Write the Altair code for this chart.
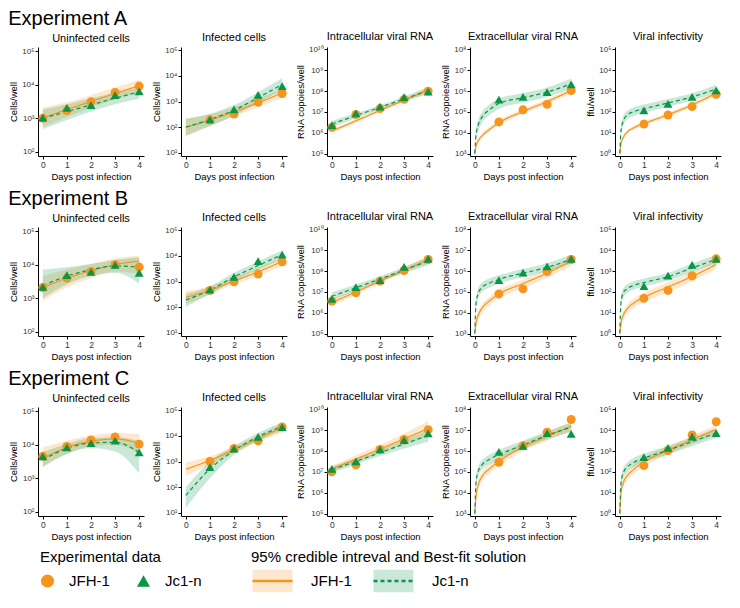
import altair as alt
import pandas as pd

FONT = "Liberation Sans"
ORANGE = "#F7941D"
GREEN = "#0A9548"
STRAINS = ["JFH-1", "Jc1-n"]
STRAIN_KEYS = ["JFH", "JC1"]
EXPERIMENTS = ["Experiment A", "Experiment B", "Experiment C"]
EXP_LETTERS = ["A", "B", "C"]
PANEL_TITLES = ["Uninfected cells", "Infected cells", "Intracellular viral RNA",
                "Extracellular viral RNA", "Viral infectivity"]
Y_TITLES = ["Cells/well", "Cells/well", "RNA copoies/well", "RNA copoies/well", "ffu/well"]
Y_LOW_EXP = [2, 1, 5, 3, 0]
Y_HIGH_EXP = [5, 5, 10, 8, 5]
X_TICKS = [0, 1, 2, 3, 4]
OBS_DAYS = [0, 1, 2, 3, 4]
T_GROWTH = [0, 1, 2, 3, 4]
T_RELEASE = [0, 0.05, 0.15, 0.3, 0.6, 1, 2, 3, 4]
FIT_TIMES = [T_GROWTH, T_GROWTH, T_GROWTH, T_RELEASE, T_RELEASE]

# ---- observed data (per well); None = not measured ----
# fits: best-fit and 95% band given as log10 of the value
# Experiment A
A0_JFH_obs = [1000, 1700, 3100, 5900, 9100]
A0_JC1_obs = [1050, 2050, 2450, 4900, 6300]
A0_JFH_fit = [3.02, 3.26, 3.5, 3.74, 3.97]
A0_JFH_lo = [2.75, 3.05, 3.32, 3.56, 3.78]
A0_JFH_hi = [3.32, 3.48, 3.68, 3.92, 4.14]
A0_JC1_fit = [3.0, 3.2, 3.4, 3.6, 3.78]
A0_JC1_lo = [2.68, 2.95, 3.2, 3.42, 3.58]
A0_JC1_hi = [3.26, 3.42, 3.6, 3.76, 3.92]

A1_JFH_obs = [None, 190, 325, 940, 2050]
A1_JC1_obs = [None, 200, 490, 1800, 4000]
A1_JFH_fit = [2.0, 2.28, 2.6, 2.95, 3.33]
A1_JFH_lo = [1.68, 2.05, 2.42, 2.78, 3.15]
A1_JFH_hi = [2.34, 2.5, 2.78, 3.12, 3.5]
A1_JC1_fit = [2.0, 2.3, 2.66, 3.15, 3.66]
A1_JC1_lo = [1.66, 2.05, 2.45, 2.95, 3.44]
A1_JC1_hi = [2.32, 2.52, 2.86, 3.36, 3.9]

A2_JFH_obs = [1.8e6, 7.5e6, 1.45e7, 4.0e7, 1.0e8]
A2_JC1_obs = [2.3e6, 8.5e6, 1.8e7, 5.2e7, 9.5e7]
A2_JFH_fit = [6.08, 6.57, 7.07, 7.56, 8.05]
A2_JFH_lo = [5.98, 6.48, 6.99, 7.47, 7.93]
A2_JFH_hi = [6.18, 6.66, 7.15, 7.65, 8.17]
A2_JC1_fit = [6.42, 6.82, 7.22, 7.62, 8.02]
A2_JC1_lo = [6.26, 6.7, 7.12, 7.5, 7.86]
A2_JC1_hi = [6.58, 6.94, 7.32, 7.74, 8.18]

A3_JFH_obs = [None, 3.3e4, 1.26e5, 2.3e5, 1.07e6]
A3_JC1_obs = [None, 3.9e5, 5.3e5, 8.9e5, 2.1e6]
A3_JFH_fit = [3.0, 3.35, 3.62, 3.85, 4.15, 4.48, 5.02, 5.5, 6.02]
A3_JFH_lo = [3.0, 3.25, 3.5, 3.73, 4.03, 4.36, 4.9, 5.38, 5.88]
A3_JFH_hi = [3.0, 3.45, 3.74, 3.97, 4.27, 4.6, 5.14, 5.62, 6.16]
A3_JC1_fit = [3.0, 3.9, 4.4, 4.75, 5.1, 5.4, 5.68, 5.95, 6.35]
A3_JC1_lo = [3.0, 3.6, 4.1, 4.48, 4.84, 5.14, 5.45, 5.72, 6.12]
A3_JC1_hi = [3.0, 4.15, 4.65, 5.0, 5.34, 5.64, 5.9, 6.17, 6.6]

A4_JFH_obs = [None, 26, 71, 180, 690]
A4_JC1_obs = [None, 118, 240, 525, 1070]
A4_JFH_fit = [0, 0.45, 0.78, 1.02, 1.25, 1.44, 1.86, 2.34, 2.9]
A4_JFH_lo = [0, 0.35, 0.68, 0.92, 1.15, 1.34, 1.76, 2.24, 2.78]
A4_JFH_hi = [0, 0.55, 0.88, 1.12, 1.35, 1.54, 1.96, 2.44, 3.02]
A4_JC1_fit = [0, 1.1, 1.58, 1.84, 2.02, 2.15, 2.43, 2.72, 3.1]
A4_JC1_lo = [0, 0.85, 1.35, 1.63, 1.82, 1.96, 2.25, 2.55, 2.92]
A4_JC1_hi = [0, 1.3, 1.8, 2.05, 2.22, 2.35, 2.62, 2.9, 3.3]

# Experiment B
B0_JFH_obs = [2100, 4000, 6300, 10000, 8500]
B0_JC1_obs = [2200, 4900, 6100, 9800, 5700]
B0_JFH_fit = [3.32, 3.6, 3.82, 4.0, 4.11]
B0_JFH_lo = [2.92, 3.33, 3.6, 3.8, 3.72]
B0_JFH_hi = [3.66, 3.86, 4.02, 4.18, 4.27]
B0_JC1_fit = [3.38, 3.66, 3.85, 3.96, 3.93]
B0_JC1_lo = [3.0, 3.42, 3.66, 3.76, 3.44]
B0_JC1_hi = [3.85, 3.92, 4.02, 4.14, 4.22]

B1_JFH_obs = [None, 450, 980, 1950, 5800]
B1_JC1_obs = [None, 480, 1500, 6200, 11000]
B1_JFH_fit = [2.38, 2.66, 3.02, 3.38, 3.78]
B1_JFH_lo = [2.12, 2.5, 2.88, 3.22, 3.6]
B1_JFH_hi = [2.62, 2.82, 3.16, 3.54, 3.96]
B1_JC1_fit = [2.28, 2.66, 3.18, 3.62, 4.05]
B1_JC1_lo = [2.02, 2.5, 3.02, 3.46, 3.86]
B1_JC1_hi = [2.52, 2.82, 3.34, 3.78, 4.22]

B2_JFH_obs = [3.6e6, 9.0e6, 3.3e7, 1.07e8, 3.6e8]
B2_JC1_obs = [4.6e6, 1.7e7, 3.7e7, 1.6e8, 3.9e8]
B2_JFH_fit = [6.49, 7.0, 7.52, 8.04, 8.56]
B2_JFH_lo = [6.3, 6.87, 7.42, 7.92, 8.38]
B2_JFH_hi = [6.66, 7.13, 7.62, 8.16, 8.72]
B2_JC1_fit = [6.79, 7.2, 7.62, 8.05, 8.48]
B2_JC1_lo = [6.6, 7.05, 7.5, 7.9, 8.28]
B2_JC1_hi = [6.98, 7.35, 7.75, 8.2, 8.66]

B3_JFH_obs = [None, 8.0e4, 1.4e5, 9.5e5, 3.6e6]
B3_JC1_obs = [None, 3.7e5, 8.5e5, 1.7e6, 3.9e6]
B3_JFH_fit = [3.0, 3.5, 3.9, 4.22, 4.56, 4.9, 5.4, 5.9, 6.48]
B3_JFH_lo = [3.0, 3.3, 3.68, 4.0, 4.34, 4.68, 5.18, 5.68, 6.25]
B3_JFH_hi = [3.0, 3.7, 4.1, 4.42, 4.76, 5.1, 5.6, 6.1, 6.68]
B3_JC1_fit = [3.0, 4.45, 4.95, 5.22, 5.42, 5.6, 5.9, 6.18, 6.56]
B3_JC1_lo = [3.0, 4.15, 4.7, 5.0, 5.2, 5.4, 5.7, 5.98, 6.35]
B3_JC1_hi = [3.0, 4.7, 5.2, 5.45, 5.64, 5.8, 6.1, 6.38, 6.78]

B4_JFH_obs = [None, 49, 118, 600, 3900]
B4_JC1_obs = [None, 190, 600, 2000, 3900]
B4_JFH_fit = [0, 0.5, 0.9, 1.18, 1.48, 1.74, 2.24, 2.74, 3.32]
B4_JFH_lo = [0, 0.25, 0.65, 0.94, 1.25, 1.5, 1.98, 2.5, 3.1]
B4_JFH_hi = [0, 0.72, 1.12, 1.4, 1.7, 1.96, 2.46, 2.96, 3.54]
B4_JC1_fit = [0, 1.48, 1.98, 2.15, 2.32, 2.45, 2.73, 3.15, 3.56]
B4_JC1_lo = [0, 1.2, 1.75, 1.95, 2.12, 2.26, 2.54, 2.95, 3.36]
B4_JC1_hi = [0, 1.72, 2.2, 2.36, 2.52, 2.65, 2.92, 3.35, 3.78]

# Experiment C
C0_JFH_obs = [4500, 8900, 13800, 17000, 10400]
C0_JC1_obs = [4500, 8300, 11200, 13100, 5900]
C0_JFH_fit = [3.59, 3.92, 4.1, 4.17, 4.04]
C0_JFH_lo = [3.32, 3.72, 3.95, 4.0, 3.72]
C0_JFH_hi = [3.92, 4.12, 4.27, 4.35, 4.31]
C0_JC1_fit = [3.55, 3.89, 4.05, 4.07, 3.77]
C0_JC1_lo = [3.35, 3.72, 3.9, 3.8, 3.15]
C0_JC1_hi = [3.78, 4.02, 4.2, 4.22, 4.12]

C1_JFH_obs = [None, 1000, 3200, 6300, 22000]
C1_JC1_obs = [None, 600, 3200, 9100, 21800]
C1_JFH_fit = [2.7, 3.04, 3.46, 3.89, 4.32]
C1_JFH_lo = [2.45, 2.88, 3.34, 3.76, 4.12]
C1_JFH_hi = [2.97, 3.2, 3.58, 4.02, 4.5]
C1_JC1_fit = [1.68, 2.71, 3.43, 3.96, 4.36]
C1_JC1_lo = [1.2, 2.35, 3.25, 3.8, 4.2]
C1_JC1_hi = [2.0, 3.0, 3.6, 4.12, 4.52]

C2_JFH_obs = [1.0e7, 2.2e7, 1.2e8, 3.6e8, 1.07e9]
C2_JC1_obs = [1.4e7, 3.2e7, 1.2e8, 3.4e8, 7.2e8]
C2_JFH_fit = [7.14, 7.62, 8.1, 8.59, 9.08]
C2_JFH_lo = [7.0, 7.45, 7.9, 8.3, 8.7]
C2_JFH_hi = [7.3, 7.8, 8.3, 8.85, 9.45]
C2_JC1_fit = [7.1, 7.51, 7.92, 8.34, 8.75]
C2_JC1_lo = [6.96, 7.36, 7.76, 8.12, 8.45]
C2_JC1_hi = [7.26, 7.66, 8.08, 8.55, 9.02]

C3_JFH_obs = [None, 2.9e5, 1.8e6, 8.1e6, 3.3e7]
C3_JC1_obs = [None, 9.1e5, 1.8e6, 7.4e6, 6.8e6]
C3_JFH_fit = [3.0, 3.82, 4.4, 4.78, 5.14, 5.5, 6.21, 6.7, 7.2]
C3_JFH_lo = [3.0, 3.6, 4.18, 4.56, 4.92, 5.28, 6.0, 6.5, 6.98]
C3_JFH_hi = [3.0, 4.04, 4.62, 5.0, 5.36, 5.72, 6.42, 6.9, 7.42]
C3_JC1_fit = [3.0, 4.48, 5.06, 5.34, 5.6, 5.83, 6.29, 6.76, 7.15]
C3_JC1_lo = [3.0, 4.2, 4.8, 5.1, 5.36, 5.6, 6.08, 6.56, 6.92]
C3_JC1_hi = [3.0, 4.74, 5.3, 5.56, 5.82, 6.05, 6.5, 6.96, 7.36]

C4_JFH_obs = [None, 200, 1070, 6000, 25700]
C4_JC1_obs = [None, 515, 1440, 5000, 7400]
C4_JFH_fit = [0, 0.99, 1.5, 1.8, 2.14, 2.47, 3.04, 3.54, 4.03]
C4_JFH_lo = [0, 0.75, 1.28, 1.58, 1.92, 2.25, 2.84, 3.34, 3.8]
C4_JFH_hi = [0, 1.22, 1.72, 2.02, 2.36, 2.68, 3.24, 3.74, 4.25]
C4_JC1_fit = [0, 1.48, 1.97, 2.22, 2.47, 2.66, 3.04, 3.45, 3.87]
C4_JC1_lo = [0, 1.22, 1.74, 2.0, 2.25, 2.45, 2.84, 3.24, 3.64]
C4_JC1_hi = [0, 1.72, 2.2, 2.44, 2.69, 2.88, 3.24, 3.66, 4.1]

SUPERSCRIPTS = ["\u2070", "\u00b9", "\u00b2", "\u00b3", "\u2074", "\u2075",
                "\u2076", "\u2077", "\u2078", "\u2079", "\u00b9\u2070"]
SUP_EXPR = ("'10' + [" + ",".join("'" + s + "'" for s in SUPERSCRIPTS) +
            "][round(log(datum.value)/LN10)]")

# separate legend keys so Vega-Lite keeps three legends apart
BAND_KEYS = [s + "|band" for s in STRAINS]
CURVE_KEYS = [s + "|fit" for s in STRAINS]
KEY_LABEL = "split(datum.label, '|')[0]"
FIT_TITLE = "95% credible intreval and Best-fit solution"

PANEL_W = 106
PANEL_H = 109
LEGEND_Y = 503
PTS_LEGEND_X = 2
FIT_LEGEND_X = 213

PTS_LEGEND = alt.Legend(
    title="Experimental data", orient="none", legendX=PTS_LEGEND_X, legendY=LEGEND_Y,
    direction="horizontal", symbolSize=170, clipHeight=24, labelFontSize=15,
    titleFontSize=15, titleFontWeight="normal", titlePadding=4, labelOffset=14,
    columnPadding=26, symbolStrokeWidth=0, labelColor="black", titleColor="black",
    titleLimit=400)
BAND_LEGEND = alt.Legend(
    title=FIT_TITLE, orient="none", legendX=FIT_LEGEND_X, legendY=LEGEND_Y,
    direction="horizontal",
    symbolType="M-1,-0.56H1V0.56H-1Z", symbolSize=1600, clipHeight=24,
    symbolOpacity=0.22, symbolStrokeWidth=2.5, symbolStrokeColor="transparent",
    labelExpr=KEY_LABEL, titleLimit=400,
    labelFontSize=15, titleFontSize=15, titleFontWeight="normal", titlePadding=4,
    labelOffset=17, columnPadding=20, labelColor="black", titleColor="black")
LINE_LEGEND = alt.Legend(
    title=FIT_TITLE, orient="none", legendX=FIT_LEGEND_X, legendY=LEGEND_Y,
    direction="horizontal",
    symbolType="M-1,0H1", symbolSize=1600, clipHeight=24,
    symbolStrokeWidth=2.5, symbolOpacity=1, labelExpr=KEY_LABEL, titleLimit=400,
    labelFontSize=15, titleFontSize=15, titleFontWeight="normal", titlePadding=4,
    labelOffset=17, columnPadding=20, labelOpacity=0, titleOpacity=0)

PTS_COLORS = alt.Scale(domain=STRAINS, range=[ORANGE, GREEN])
BAND_COLORS = alt.Scale(domain=BAND_KEYS, range=[ORANGE, GREEN])
CURVE_COLORS = alt.Scale(domain=CURVE_KEYS, range=[ORANGE, GREEN])
CURVE_DASH = alt.Scale(domain=CURVE_KEYS, range=[[1, 0], [4, 3]])
PTS_SHAPES = alt.Scale(domain=STRAINS, range=["circle", "triangle-up"])


def series(e, c, key, kind):
    return globals()[f"{e}{c}_{key}_{kind}"]


def panel(e, c):
    lo_e, hi_e = Y_LOW_EXP[c], Y_HIGH_EXP[c]
    fit_rows, obs_rows = [], []
    for i, (key, strain) in enumerate(zip(STRAIN_KEYS, STRAINS)):
        for t, m, l, h in zip(FIT_TIMES[c], series(e, c, key, "fit"),
                              series(e, c, key, "lo"), series(e, c, key, "hi")):
            fit_rows.append({"t": t, "mid": 10 ** m, "lo": 10 ** l, "hi": 10 ** h,
                             "band": BAND_KEYS[i], "curve": CURVE_KEYS[i]})
        for d, v in zip(OBS_DAYS, series(e, c, key, "obs")):
            if v is not None:
                obs_rows.append({"t": d, "v": v, "data": strain})
    fit_df = pd.DataFrame(fit_rows)
    obs_df = pd.DataFrame(obs_rows)

    xs = alt.Scale(domain=[-0.2, 4.2], nice=False, zero=False)
    ys = alt.Scale(type="log", domain=[10 ** (lo_e - 0.12), 10 ** (hi_e + 0.12)], nice=False)
    xa = alt.Axis(values=X_TICKS, title="Days post infection", format="d", grid=False,
                  labelFontSize=8.5)
    ya = alt.Axis(values=[10 ** k for k in range(lo_e, hi_e + 1)], title=Y_TITLES[c],
                  labelExpr=SUP_EXPR, grid=False, labelFontSize=8)

    band = alt.Chart(fit_df).mark_area(opacity=0.22, interpolate="monotone", clip=True).encode(
        x=alt.X("t:Q", scale=xs, axis=xa),
        y=alt.Y("lo:Q", scale=ys, axis=ya),
        y2="hi:Q",
        fill=alt.Fill("band:N", scale=BAND_COLORS, legend=BAND_LEGEND),
    )
    line = alt.Chart(fit_df).mark_line(strokeWidth=1.2, interpolate="monotone", clip=True).encode(
        x=alt.X("t:Q", scale=xs, axis=xa),
        y=alt.Y("mid:Q", scale=ys, axis=ya),
        stroke=alt.Stroke("curve:N", scale=CURVE_COLORS, legend=LINE_LEGEND),
        strokeDash=alt.StrokeDash("curve:N", scale=CURVE_DASH, legend=LINE_LEGEND),
    )
    pts = alt.Chart(obs_df).mark_point(filled=True, size=80, opacity=1, clip=True).encode(
        x=alt.X("t:Q", scale=xs, axis=xa),
        y=alt.Y("v:Q", scale=ys, axis=ya),
        color=alt.Color("data:N", scale=PTS_COLORS, legend=PTS_LEGEND),
        shape=alt.Shape("data:N", scale=PTS_SHAPES, legend=PTS_LEGEND),
    )
    return alt.layer(band, line, pts).properties(
        width=PANEL_W, height=PANEL_H,
        title=alt.TitleParams(PANEL_TITLES[c], fontSize=11, fontWeight="normal", offset=3),
    )


rows = []
for i, e in enumerate(EXP_LETTERS):
    row = alt.hconcat(
        *[panel(e, c) for c in range(5)], spacing=6,
        title=alt.TitleParams(EXPERIMENTS[i], anchor="start", fontSize=20,
                              fontWeight="normal", offset=2),
    ).resolve_scale(x="independent", y="independent")
    rows.append(row)

chart = alt.vconcat(*rows, spacing=6).resolve_scale(
    x="independent", y="independent"
).properties(padding=0).configure(font=FONT).configure_view(
    stroke="transparent"
).configure_axis(
    domainColor="black", tickColor="black", labelColor="#333333", titleColor="black",
    titleFontWeight="normal", titleFontSize=9.5, tickSize=3, labelPadding=1,
    titlePadding=3, domainWidth=1, tickWidth=1,
).configure_title(color="black")

chart.save("out.html", embed_options={"renderer": "svg", "actions": False})
